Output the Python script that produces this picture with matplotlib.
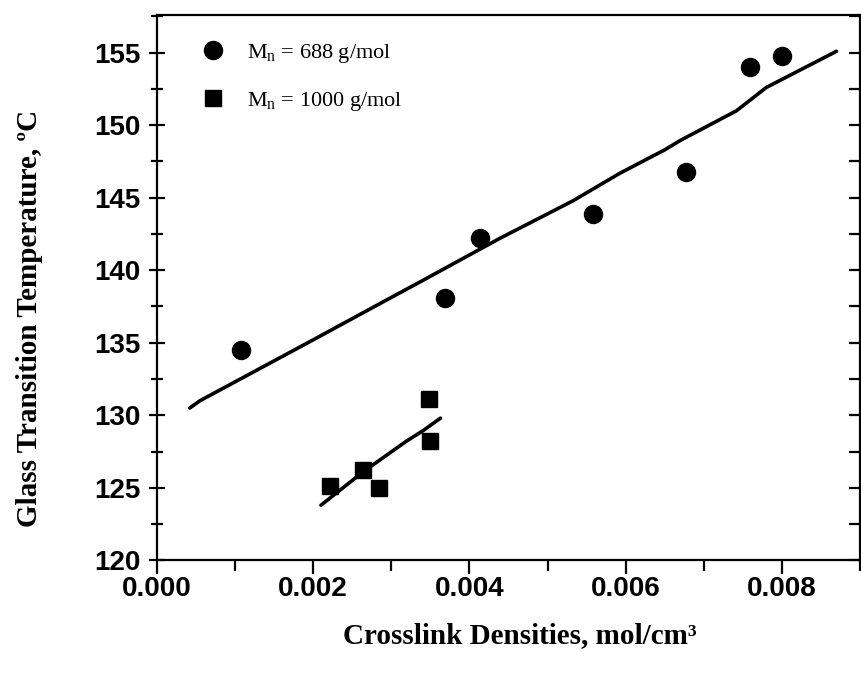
import matplotlib
matplotlib.use("Agg")
import matplotlib.pyplot as plt
from matplotlib.ticker import MultipleLocator, FormatStrFormatter

plt.rcParams['mathtext.fontset'] = 'custom'
plt.rcParams['mathtext.rm'] = 'Liberation Serif'

# measured points, Mn = 688 g/mol
x_688 = [0.00108, 0.00369, 0.00414, 0.00558, 0.00677, 0.00759, 0.00800]
tg_688 = [134.5, 138.1, 142.2, 143.9, 146.8, 154.0, 154.75]

# measured points, Mn = 1000 g/mol
x_1000 = [0.00222, 0.00264, 0.00284, 0.00348, 0.00350]
tg_1000 = [125.1, 126.2, 125.0, 131.1, 128.2]

# fitted curves
fit_x_688 = [0.00042, 0.00055, 0.0020, 0.00294, 0.00337, 0.00439, 0.00533,
             0.00593, 0.0065, 0.0067, 0.00742, 0.0078, 0.0087]
fit_tg_688 = [130.5, 131.0, 135.2, 137.95, 139.2, 142.2, 144.8,
              146.7, 148.3, 148.95, 151.0, 152.6, 155.1]
fit_x_1000 = [0.0021, 0.00264, 0.00319, 0.00341, 0.00363]
fit_tg_1000 = [123.8, 126.1, 128.2, 128.95, 129.8]

labels = ['M$_\\mathrm{n}$ = 688 g/mol', 'M$_\\mathrm{n}$ = 1000 g/mol']

fig = plt.figure(figsize=(8.61, 6.73), dpi=100)
ax = fig.add_axes([0.1823, 0.1675, 0.8165, 0.8102])

ax.plot(fit_x_688, fit_tg_688, color='black', lw=2.6, solid_capstyle='round')
ax.plot(fit_x_1000, fit_tg_1000, color='black', lw=2.6, solid_capstyle='round')
ax.plot(x_688, tg_688, 'o', color='black', ms=13, label=labels[0])
ax.plot(x_1000, tg_1000, 's', color='black', ms=11, label=labels[1])

ax.set_xlim(0, 0.009)
ax.set_ylim(120, 157.6)

ax.xaxis.set_major_locator(MultipleLocator(0.002))
ax.xaxis.set_minor_locator(MultipleLocator(0.001))
ax.xaxis.set_major_formatter(FormatStrFormatter('%.3f'))
ax.yaxis.set_major_locator(MultipleLocator(5))
ax.yaxis.set_minor_locator(MultipleLocator(2.5))

for s in ax.spines.values():
    s.set_linewidth(1.6)

tick_font = {'family': 'Liberation Sans', 'weight': 'bold', 'size': 20}
ax.tick_params(axis='x', which='major', direction='out', length=10, width=1.6, pad=1)
ax.tick_params(axis='x', which='minor', direction='out', length=8, width=1.6)
ax.tick_params(axis='y', which='major', direction='inout', length=12, width=1.6, pad=6)
ax.tick_params(axis='y', which='minor', direction='inout', length=8, width=1.6)
for lab in ax.get_xticklabels() + ax.get_yticklabels():
    lab.set_fontproperties(tick_font)

# ticks on right side point inward
ax2 = ax.twinx()
ax2.set_ylim(ax.get_ylim())
ax2.yaxis.set_major_locator(MultipleLocator(5))
ax2.yaxis.set_minor_locator(MultipleLocator(2.5))
ax2.tick_params(axis='y', which='both', direction='in', length=8, width=1.6, labelright=False)
for s in ax2.spines.values():
    s.set_visible(False)

label_font = {'family': 'Liberation Serif', 'weight': 'bold', 'size': 21}
ax.set_xlabel('Crosslink Densities, mol/cm³', fontdict=label_font)
ax.set_ylabel('Glass Transition Temperature, ºC', fontdict=label_font)
ax.xaxis.set_label_coords(0.516, -0.114)
ax.yaxis.set_label_coords(-0.162, 0.444)

ax.legend(loc='upper left', frameon=False, prop={'family': 'Liberation Serif', 'size': 16},
          handletextpad=0.95, borderaxespad=0.6, labelspacing=1.15, handlelength=1.2,
          bbox_to_anchor=(0.029, 0.992))

fig.savefig('out.png', dpi=100)
